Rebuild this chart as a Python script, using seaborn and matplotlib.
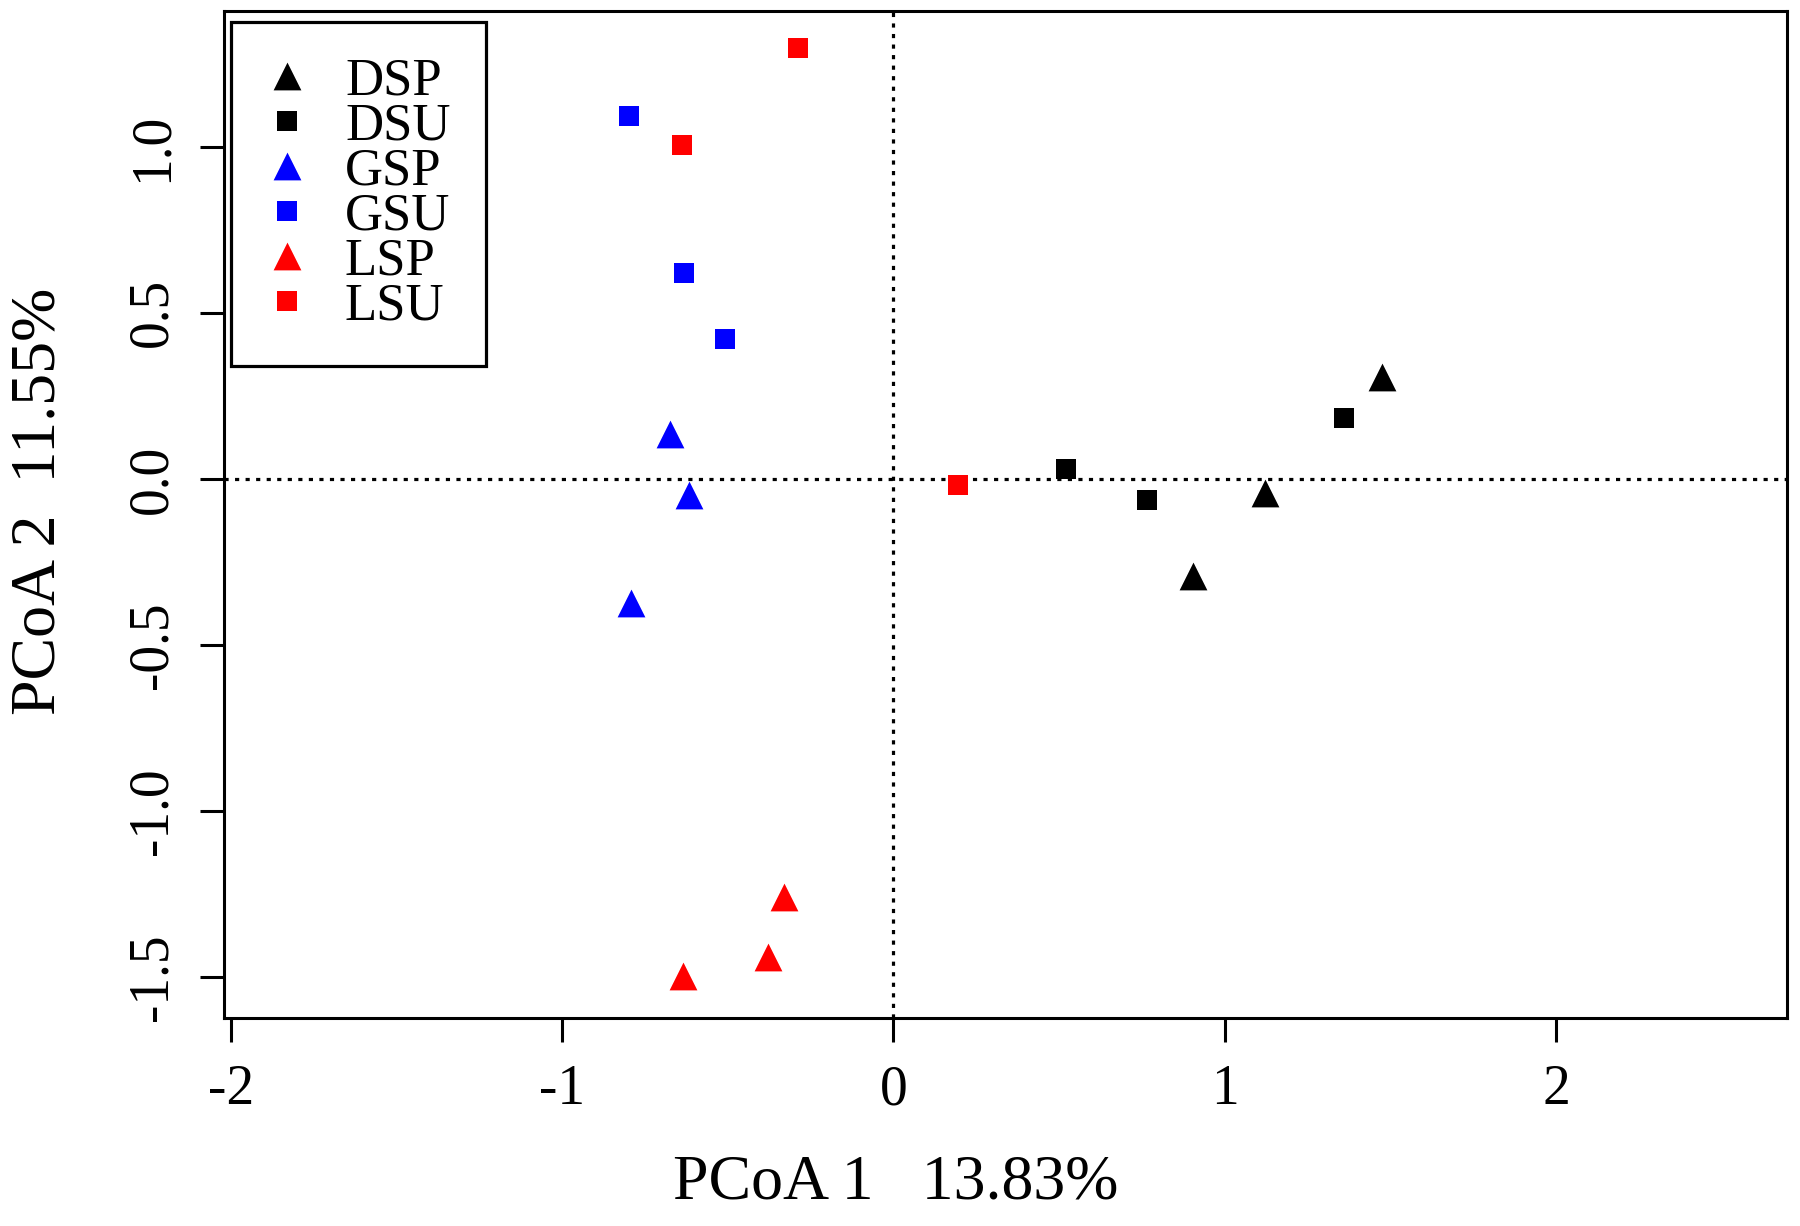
import pandas as pd
import matplotlib.pyplot as plt
import seaborn as sns

# values
groups = ['DSP', 'DSU', 'GSP', 'GSU', 'LSP', 'LSU']
pcoa1 = {
    'DSP': [1.475, 1.122, 0.905],
    'DSU': [1.361, 0.766, 0.520],
    'GSP': [-0.675, -0.618, -0.792],
    'GSU': [-0.799, -0.632, -0.509],
    'LSP': [-0.331, -0.379, -0.636],
    'LSU': [-0.288, -0.639, 0.195],
}
pcoa2 = {
    'DSP': [0.307, -0.042, -0.292],
    'DSU': [0.184, -0.063, 0.030],
    'GSP': [0.136, -0.048, -0.373],
    'GSU': [1.093, 0.620, 0.422],
    'LSP': [-1.259, -1.440, -1.497],
    'LSU': [1.298, 1.006, -0.018],
}
x_ticks = [-2, -1, 0, 1, 2]
y_ticks = [-1.5, -1.0, -0.5, 0.0, 0.5, 1.0]
x_label = 'PCoA 1   13.83%'
y_label = 'PCoA 2  11.55%'

colors = {'DSP': 'black', 'DSU': 'black', 'GSP': '#0000FF',
          'GSU': '#0000FF', 'LSP': '#FF0000', 'LSU': '#FF0000'}
markers = {'DSP': '^', 'DSU': 's', 'GSP': '^', 'GSU': 's', 'LSP': '^', 'LSU': 's'}
msize = {'^': 400, 's': 200}

rows = []
for g in groups:
    for a, b in zip(pcoa1[g], pcoa2[g]):
        rows.append({'group': g, 'PC1': a, 'PC2': b})
df = pd.DataFrame(rows)

sns.set_style('white')
plt.rcParams['font.family'] = ['Liberation Serif', 'DejaVu Serif']

fig = plt.figure(figsize=(18, 12.26), dpi=100)
ax = fig.add_axes([0.1244, 0.1697, 0.8683, 0.8214])

ax.axhline(0, color='black', lw=2.3, ls=(0, (1.3, 2.0)), zorder=1)
ax.axvline(0, color='black', lw=2.3, ls=(0, (1.3, 2.0)), zorder=1)

for g in groups:
    sub = df[df['group'] == g]
    m = markers[g]
    sns.scatterplot(data=sub, x='PC1', y='PC2', ax=ax, marker=m, color=colors[g],
                    s=msize[m], linewidth=0, label=g, zorder=3)

ax.set_xlim(-2.021, 2.697)
ax.set_ylim(-1.6235, 1.4096)
ax.set_xticks(x_ticks)
ax.set_xticklabels([str(t) for t in x_ticks])
ax.set_yticks(y_ticks)
ax.set_yticklabels(['%.1f' % t for t in y_ticks], rotation=90, va='center')
ax.tick_params(axis='both', which='major', direction='out', length=17.5, width=2.2,
               color='black', labelsize=40, labelcolor='black')
ax.tick_params(axis='x', pad=16)
ax.tick_params(axis='y', pad=15)
ax.xaxis.set_ticks_position('bottom')
ax.yaxis.set_ticks_position('left')

for sp in ax.spines.values():
    sp.set_visible(True)
    sp.set_color('black')
    sp.set_linewidth(2.2)

ax.set_xlabel(x_label, fontsize=46, color='black')
ax.set_ylabel(y_label, fontsize=46, color='black')
ax.xaxis.set_label_coords(0.43, -0.136)
ax.yaxis.set_label_coords(-0.0992, 0.513)

leg = ax.legend(loc='upper left', bbox_to_anchor=(231 / 1800, 1 - 22 / 1226),
                bbox_transform=fig.transFigure, borderaxespad=0, fontsize=38,
                frameon=True, fancybox=False, framealpha=1, edgecolor='black',
                borderpad=0.68, handlelength=0.76, handletextpad=0.72,
                labelspacing=-0.06, scatterpoints=1, scatteryoffsets=[0.5])
leg.get_frame().set_linewidth(2.3)
for t in leg.get_texts():
    t.set_color('black')

fig.savefig('out.png', dpi=100)
